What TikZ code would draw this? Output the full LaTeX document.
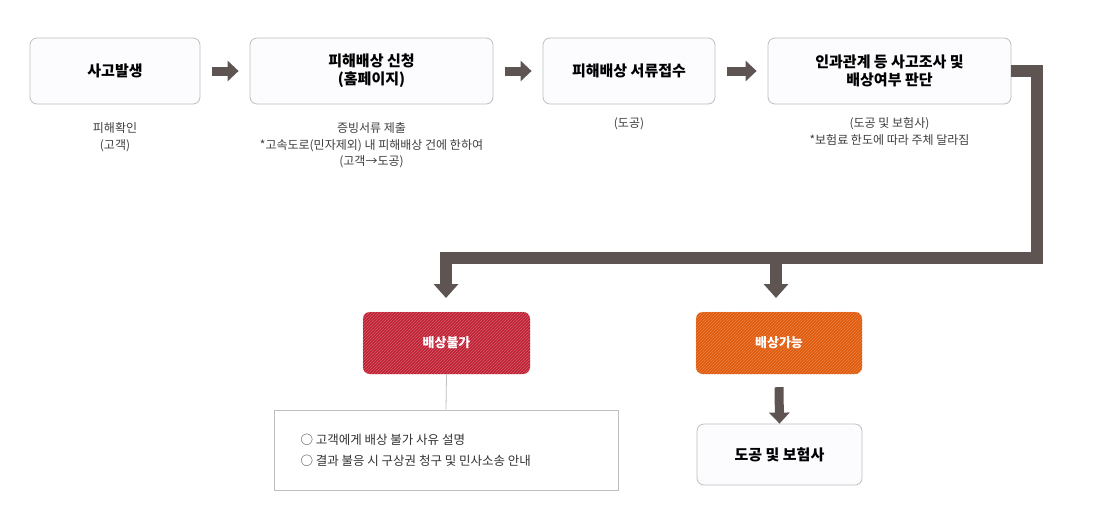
\documentclass[tikz,border=0pt]{standalone}
\usepackage{fontspec}
\setmainfont{Noto Sans CJK KR}
\usetikzlibrary{patterns,arrows.meta}
\definecolor{arr}{HTML}{5E5553}
\definecolor{redb}{HTML}{C01E32}
\definecolor{orgb}{HTML}{E05A0A}
\tikzset{
 stepbox/.style={draw=black!25,fill=black!2!blue!1!white,rounded corners=7pt,line width=0.8pt,font=\fontsize{15}{18}\selectfont\bfseries,align=center,inner sep=0pt},
 cap/.style={},
 capt/.style={font=\fontsize{12}{16.5}\selectfont,text=black!75,align=center},
 colbox/.style={rounded corners=7pt,text=white,font=\fontsize{13}{16}\selectfont\bfseries,inner sep=0pt},
 blk/.style={draw=arr,line width=12pt,-{Triangle[length=14pt,width=24pt]}},
 blks/.style={draw=arr,line width=9pt,-{Triangle[length=11pt,width=20pt]}},
}
\begin{document}
\begin{tikzpicture}[x=1pt,y=-1pt]
\useasboundingbox[fill=white] (0,0) rectangle (1116,523);
\node[stepbox,minimum width=170pt,minimum height=66pt] (b1) at (115,71) {사고발생};
\node[stepbox,minimum width=243pt,minimum height=66pt] (b2) at (371.5,71) {피해배상 신청\\(홈페이지)};
\node[stepbox,minimum width=172pt,minimum height=66pt] (b3) at (629,71) {피해배상 서류접수};
\node[stepbox,minimum width=243pt,minimum height=66pt] (b4) at (889.5,71) {인과관계 등 사고조사 및\\배상여부 판단};
\node[capt,anchor=north] (c1) at (115,119) {피해확인\\(고객)};
\node[capt,anchor=north] (c2) at (371.5,119) {증빙서류 제출\\*고속도로(민자제외) 내 피해배상 건에 한하여\\(고객→도공)};
\node[capt,anchor=north] (c3) at (629,114) {(도공)};
\node[capt,anchor=north] (c4) at (889.5,114) {(도공 및 보험사)\\*보험료 한도에 따라 주체 달라짐};
\foreach \a/\b in {b1/b2,b2/b3,b3/b4}{
 \draw[blks,shorten <=12pt,shorten >=11pt] (\a.east) -- (\b.west);}
\node[colbox,fill=redb,minimum width=167pt,minimum height=62pt] (r) at (446.5,343) {};
\fill[pattern={north east lines},pattern color=white!30!redb] (r.south west) [rounded corners=7pt] rectangle (r.north east);
\node[text=white,font=\fontsize{13}{16}\selectfont\bfseries] at (r) {배상불가};
\node[colbox,fill=orgb,minimum width=166pt,minimum height=62pt] (o) at (779,343) {};
\fill[pattern={north east lines},pattern color=white!25!orgb] (o.south west) [rounded corners=7pt] rectangle (o.north east);
\node[text=white,font=\fontsize{13}{16}\selectfont\bfseries] at (o) {배상가능};
\node[draw=black!25,line width=0.8pt,minimum width=344pt,minimum height=80pt,inner sep=0pt] (n) at (446,450) {};
\node[anchor=west,font=\fontsize{12.5}{21}\selectfont,text=black!80,align=left] at (297,450) {○ 고객에게 배상 불가 사유 설명\\○ 결과 불응 시 구상권 청구 및 민사소송 안내};
\node[stepbox,minimum width=165pt,minimum height=61pt] (f) at (779.5,454.5) {도공 및 보험사};
\draw[black!25,line width=0.8pt] (r.south) -- (n.north);
\coordinate (t) at (1037,258);
\coordinate (ra) at (446,258);
\coordinate (oa) at (776,258);
\draw[arr,line width=12pt] (b4.east) -| (t) -- (ra);
\draw[blk] (ra) ++(0,-6) -- ++(0,46);
\draw[blk] (oa) ++(0,0) -- ++(0,40);
\draw[blks] (o.south) ++(0,13) -- (f.north);
\end{tikzpicture}
\end{document}
